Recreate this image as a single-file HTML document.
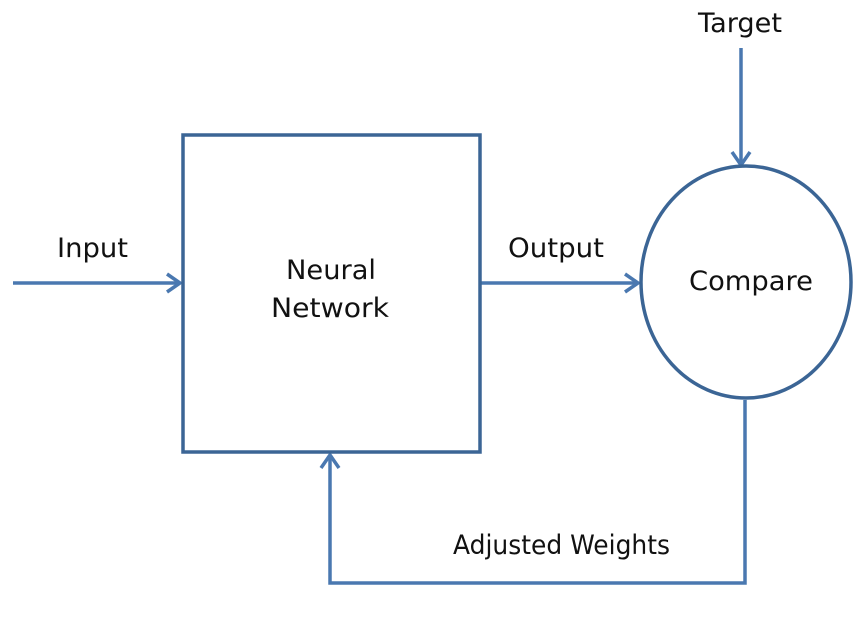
<!DOCTYPE html>
<html><head><style>body{margin:0;background:#fff}</style></head><body>
<svg width="866" height="617" viewBox="0 0 866 617" xmlns="http://www.w3.org/2000/svg">
<g fill="none" stroke="#4a78b0" stroke-width="3.5">
<line x1="13" y1="283" x2="180" y2="283"/>
<polyline points="167,274 180,283 167,292"/>
<line x1="480" y1="283" x2="638" y2="283"/>
<polyline points="625,274 638,283 625,292"/>
<line x1="741" y1="48" x2="741" y2="165"/>
<polyline points="732,152 741,165 750,152"/>
<polyline points="745,400 745,583 330,583 330,455"/>
<polyline points="321,468 330,455 339,468"/>
</g>
<rect x="183" y="135" width="297" height="317" fill="none" stroke="#3b6595" stroke-width="3.5"/>
<ellipse cx="746" cy="282" rx="105" ry="116" fill="none" stroke="#3b6595" stroke-width="3.5"/>
<g font-family="DejaVu Sans, sans-serif" font-size="27" fill="#111">
<text x="57" y="257" textLength="71" lengthAdjust="spacingAndGlyphs">Input</text>
<text x="508" y="257" textLength="96" lengthAdjust="spacingAndGlyphs">Output</text>
<text x="698" y="32" textLength="84" lengthAdjust="spacingAndGlyphs">Target</text>
<text x="286" y="279" textLength="90" lengthAdjust="spacingAndGlyphs">Neural</text>
<text x="271" y="317" textLength="118" lengthAdjust="spacingAndGlyphs">Network</text>
<text x="689" y="290" textLength="124" lengthAdjust="spacingAndGlyphs">Compare</text>
<text x="453" y="554" textLength="217" lengthAdjust="spacingAndGlyphs">Adjusted Weights</text>
</g>
</svg>
</body></html>
